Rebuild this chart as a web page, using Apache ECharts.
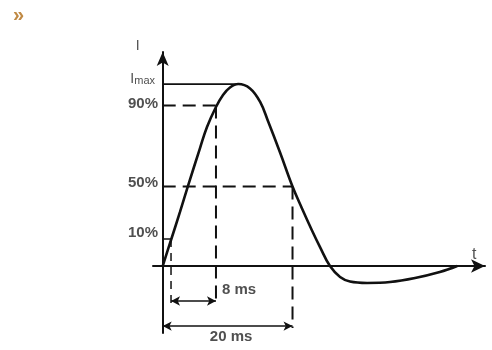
<!DOCTYPE html>
<html>
<head>
<meta charset="utf-8">
<script src="https://cdn.jsdelivr.net/npm/echarts@6/dist/echarts.min.js"></script>
<style>
html, body { margin: 0; padding: 0; background: #fff; }
#chart { width: 492px; height: 350px; }
</style>
</head>
<body>
<div id="chart"></div>
<script>
// Impulsform: Zeit in ms, Strom in % von Imax
var pulseTime = [0, 1.29, 2.68, 3.92, 5.78, 6.86, 8.25, 9.34, 10.42, 11.7, 13.52, 15.07, 16.3,
  18.17, 20.1, 21.57, 23.08, 24.36, 25.9, 27.46, 29, 31.64, 35.2, 39.07, 42.9, 45.6]
var pulseCurrent = [0, 14.3, 29.7, 44, 64.8, 76.4, 87.4, 94, 98.1, 100, 97.6, 90.3, 79.7,
  62.4, 43.7, 31.6, 19.8, 10.4, 0, -6, -8.5, -9.3, -8.8, -6.6, -3.3, 0]

// Pegel auf der I-Achse
var levelNames = ['Imax', '90%', '50%', '10%']
var levelValues = [100, 88.2, 43.7, 14.8]

// Zeitpunkte an denen die Pegel erreicht werden
var levelTimes = [11.7, 8.25, 20.1, 1.29]

// Zeitspannen (von, bis)
var spanNames = ['8 ms', '20 ms']
var spanFrom = [1.29, 0]
var spanTo = [8.25, 20.1]

var ink = '#111'
var textColor = '#505050'
var font = 'Liberation Sans, Arial, sans-serif'
var dash = [13, 7]

var chart = echarts.init(document.getElementById('chart'))

function guide (data, type, width) {
  return {
    type: 'line',
    data: data,
    showSymbol: false,
    silent: true,
    z: 2,
    lineStyle: { color: ink, width: width || 2, type: type || 'solid' }
  }
}

var curve = pulseTime.map(function (t, i) { return [t, pulseCurrent[i]] })

// untere Enden der gestrichelten Linien (unterhalb der t-Achse)
var low8 = -20.3
var low20 = -34.1
var arrowY = [-19.2, -33.0]

var spanLabel = {
  color: textColor, fontFamily: font, fontWeight: 'bold', fontSize: 15
}

var series = [
  guide([[0, levelValues[0]], [levelTimes[0], levelValues[0]]], 'solid', 1.8),
  guide([[0, levelValues[3]], [levelTimes[3], levelValues[3]]], 'solid', 1.5),
  guide([[0, levelValues[1]], [levelTimes[1], levelValues[1]]], dash),
  guide([[levelTimes[1], levelValues[1]], [levelTimes[1], low8]], dash),
  guide([[0, levelValues[2]], [levelTimes[2], levelValues[2]]], dash),
  guide([[levelTimes[2], levelValues[2]], [levelTimes[2], low20]], dash),
  guide([[levelTimes[3], levelValues[3]], [levelTimes[3], low8]], [8, 6], 1.5),
  {
    type: 'line',
    data: curve,
    smooth: 0.4,
    showSymbol: false,
    silent: true,
    z: 5,
    lineStyle: { color: ink, width: 2.6 }
  },
  {
    type: 'line',
    data: [],
    silent: true,
    markLine: {
      silent: true,
      symbol: ['arrow', 'arrow'],
      symbolSize: [7, 9],
      lineStyle: { color: ink, width: 1.6, type: 'solid' },
      data: [
        [
          { coord: [spanFrom[0], arrowY[0]], label: { show: true, position: 'end', distance: 6, formatter: '{a|' + spanNames[0] + '}', rich: { a: Object.assign({ padding: [0, 0, 22, 0] }, spanLabel) } } },
          { coord: [spanTo[0], arrowY[0]] }
        ],
        [
          { coord: [spanFrom[1], arrowY[1]], label: { show: true, position: 'insideMiddleBottom', distance: 3, formatter: '{a|' + spanNames[1] + '}', rich: { a: Object.assign({ padding: [0, 0, 0, 7] }, spanLabel) } } },
          { coord: [spanTo[1], arrowY[1]] }
        ]
      ]
    }
  }
]

var option = {
  animation: false,
  title: {
    text: '»',
    left: 8,
    top: 0,
    textStyle: { color: '#c08a45', fontSize: 20, fontWeight: 'bold', fontFamily: font }
  },
  grid: { left: 153, right: 7, top: 52, bottom: 17 },
  xAxis: {
    type: 'value',
    min: -1.5,
    max: 49.9,
    name: 't',
    nameLocation: 'end',
    nameGap: -13,
    nameTextStyle: { color: textColor, fontFamily: font, fontSize: 16, verticalAlign: 'bottom', padding: [0, 0, 3, 0] },
    axisLine: { onZero: true, symbol: ['none', 'arrow'], symbolSize: [10, 14], lineStyle: { color: ink, width: 2 } },
    axisTick: { show: false },
    axisLabel: { show: false },
    splitLine: { show: false }
  },
  yAxis: {
    type: 'value',
    min: -36.8,
    max: 117.6,
    name: 'I',
    nameLocation: 'end',
    nameGap: -1,
    nameTextStyle: { color: textColor, fontFamily: font, fontSize: 14, padding: [0, 50, 0, 0] },
    axisLine: { onZero: true, symbol: ['none', 'arrow'], symbolSize: [9, 14], lineStyle: { color: ink, width: 2 } },
    axisTick: { show: false },
    splitLine: { show: false },
    axisLabel: {
      customValues: levelValues,
      margin: -5,
      formatter: function (v) {
        var i = 0
        levelValues.forEach(function (lv, k) {
          if (Math.abs(lv - v) < Math.abs(levelValues[i] - v)) i = k
        })
        if (levelNames[i] === 'Imax') return '{big|I}{sub|max}'
        return '{p' + i + '|' + levelNames[i] + '}'
      },
      rich: {
        big: { fontSize: 14, color: textColor, fontFamily: font, verticalAlign: 'bottom', lineHeight: 14, padding: [0, 0, 5, 0] },
        sub: { fontSize: 11, color: textColor, fontFamily: font, verticalAlign: 'bottom', lineHeight: 11, padding: [0, 3, 5, 0] },
        p1: { fontSize: 15, color: textColor, fontFamily: font, fontWeight: 'bold', padding: [0, 0, 4, 0] },
        p2: { fontSize: 15, color: textColor, fontFamily: font, fontWeight: 'bold', padding: [0, 0, 7, 0] },
        p3: { fontSize: 15, color: textColor, fontFamily: font, fontWeight: 'bold', padding: [0, 0, 12, 0] }
      }
    }
  },
  series: series
}

chart.setOption(option)
window.addEventListener('resize', function () {
  chart.resize()
})
</script>
</body>
</html>
